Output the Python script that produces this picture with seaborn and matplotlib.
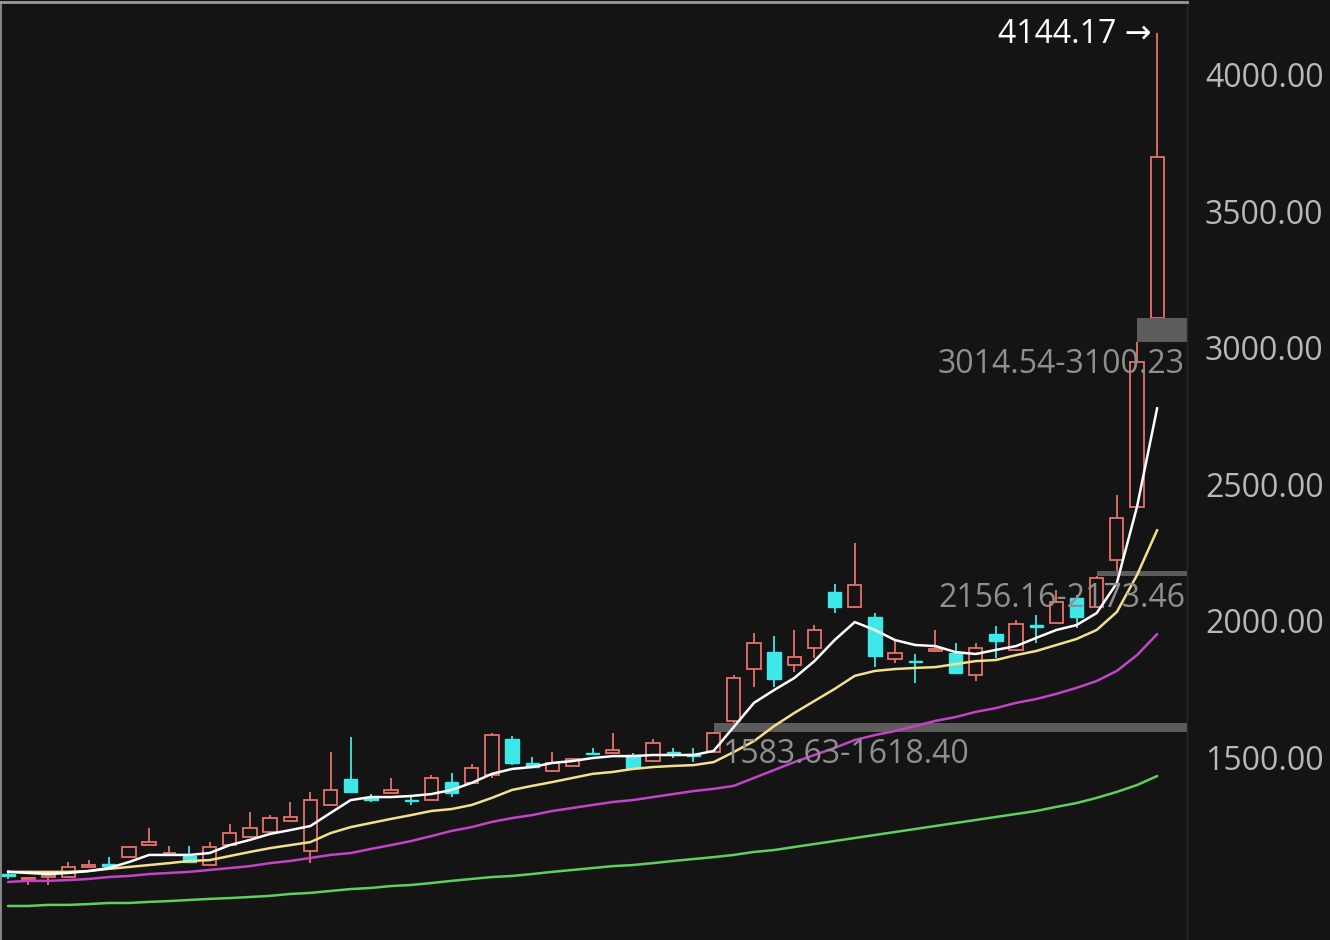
import numpy as np
import pandas as pd
import matplotlib
matplotlib.use("Agg")
import matplotlib.pyplot as plt
from matplotlib.transforms import ScaledTranslation
import seaborn as sns

# ---------------- data ----------------
opens = [1064, 1045, 1053, 1053, 1090, 1101, 1126, 1170, 1140, 1130,
         1097, 1170, 1200, 1218, 1258, 1148, 1317, 1412, 1346, 1361,
         1337, 1335, 1401, 1397, 1427, 1559, 1471, 1441, 1460, 1508,
         1507, 1500, 1478, 1510, 1502, 1511, 1624, 1815, 1877, 1830,
         1892, 2097, 2042, 2006, 1852, 1844, 1881, 1874, 1793, 1943,
         1884, 1975, 1984, 2075, 2042, 2214, 2408, 3100.23]
highs = [1079, 1052, 1068, 1108, 1115, 1126, 1165, 1233, 1167, 1167,
         1181, 1247, 1291, 1280, 1328, 1364, 1511, 1566, 1357, 1416,
         1353, 1427, 1434, 1467, 1581, 1570, 1493, 1511, 1490, 1526,
         1581, 1507, 1559, 1526, 1526, 1583.63, 1793, 1947, 1936, 1958,
         1976, 2126, 2277, 2020, 1918, 1870, 1958, 1910, 1910, 1973,
         1995, 2013, 2104, 2086, 2156.16, 2452, 3014.54, 4144.17]
lows = [1046, 1024, 1024, 1050, 1088, 1092, 1124, 1168, 1130, 1105,
        1095, 1168, 1198, 1216, 1256, 1104, 1315, 1362, 1328, 1359,
        1317, 1333, 1346, 1395, 1416, 1463, 1452, 1439, 1458, 1500,
        1506, 1445, 1476, 1489, 1474, 1509, 1618.40, 1749, 1749, 1804,
        1855, 2020, 2040, 1822, 1837, 1764, 1879, 1798, 1771, 1855,
        1882, 1910, 1982, 1965, 2040, 2173.46, 2406, 3100.23]
closes = [1057, 1048, 1060, 1090, 1097, 1094, 1163, 1181, 1142, 1108,
          1163, 1214, 1233, 1269, 1273, 1335, 1372, 1365, 1335, 1372,
          1333, 1416, 1361, 1452, 1573, 1471, 1456, 1471, 1485, 1504,
          1518, 1452, 1544, 1506, 1498, 1581, 1782, 1910, 1778, 1859,
          1958, 2042, 2123, 1863, 1874, 1840, 1888, 1800, 1892, 1918,
          1980, 1970, 2061, 2006, 2148, 2368, 2940, 3691]

ma5 = [1072, 1068, 1064, 1068, 1075, 1086, 1108, 1134, 1134, 1134,
       1141, 1170, 1189, 1211, 1225, 1240, 1288, 1335, 1346, 1346,
       1350, 1357, 1372, 1398, 1431, 1449, 1456, 1471, 1478, 1489,
       1496, 1496, 1500, 1500, 1500, 1515, 1603, 1691, 1738, 1782,
       1844, 1921, 1987, 1958, 1921, 1903, 1899, 1877, 1870, 1885,
       1899, 1929, 1958, 1976, 2020, 2130, 2409, 2771]
ma10 = [1072, 1072, 1072, 1072, 1075, 1083, 1090, 1097, 1104, 1112,
        1115, 1130, 1145, 1159, 1170, 1181, 1214, 1236, 1251, 1266,
        1280, 1295, 1302, 1317, 1343, 1372, 1387, 1401, 1416, 1431,
        1438, 1449, 1456, 1460, 1463, 1474, 1511, 1551, 1606, 1654,
        1698, 1742, 1790, 1808, 1815, 1819, 1822, 1833, 1844, 1848,
        1866, 1881, 1903, 1925, 1958, 2024, 2159, 2324]
ma20 = [1035, 1039, 1039, 1042, 1046, 1053, 1057, 1064, 1068, 1072,
        1079, 1086, 1093, 1104, 1112, 1123, 1134, 1141, 1156, 1170,
        1185, 1203, 1222, 1236, 1255, 1269, 1280, 1295, 1306, 1317,
        1328, 1335, 1346, 1357, 1368, 1376, 1387, 1416, 1445, 1474,
        1500, 1526, 1555, 1573, 1588, 1606, 1625, 1639, 1658, 1672,
        1691, 1705, 1724, 1746, 1771, 1808, 1866, 1943]
ma60 = [947, 947, 951, 951, 954, 958, 958, 962, 965, 969,
        973, 976, 980, 984, 991, 995, 1002, 1009, 1013, 1020,
        1024, 1031, 1039, 1046, 1053, 1057, 1064, 1072, 1079, 1086,
        1093, 1097, 1104, 1112, 1119, 1126, 1134, 1145, 1152, 1163,
        1174, 1185, 1196, 1207, 1218, 1229, 1240, 1251, 1262, 1273,
        1284, 1295, 1310, 1324, 1343, 1365, 1390, 1423]

yticks = [1500, 2000, 2500, 3000, 3500, 4000]
gap_start = [35, 54, 56]
gap_low = [1583.63, 2156.16, 3014.54]
gap_high = [1618.40, 2173.46, 3100.23]
peak_value = 4144.17

# ---------------- style ----------------
BG = "#141414"
RED = "#e8716b"
CYAN = "#3fe8e8"
GAPC = "#5c5c5c"
FS = 23
sns.set_theme(style="dark", rc={"axes.facecolor": BG, "figure.facecolor": BG,
                                "savefig.facecolor": BG})
plt.rcParams["font.family"] = ["Open Sans", "DejaVu Sans"]

fig = plt.figure(figsize=(13.3, 9.4), dpi=100)
ax = fig.add_axes([0, 0, 1187 / 1330, 938 / 940])
ax.set_facecolor(BG)

n = len(opens)
df = pd.DataFrame({"i": np.arange(n), "o": opens, "h": highs, "l": lows, "c": closes,
                   "ma5": ma5, "ma10": ma10, "ma20": ma20, "ma60": ma60})
df["top"] = df[["o", "c"]].max(axis=1)
df["bot"] = df[["o", "c"]].min(axis=1)
up = df[df.c >= df.o]
dn = df[df.c < df.o]
W = 0.66

# candles: rising -> hollow red, falling -> filled cyan
ax.vlines(up.i, up.l, up.bot, color=RED, lw=1.3, zorder=2)
ax.vlines(up.i, up.top, up.h, color=RED, lw=1.3, zorder=2)
ax.bar(up.i, up.top - up.bot, bottom=up.bot, width=W, facecolor=BG,
       edgecolor=RED, linewidth=1.3, zorder=2.1)
ax.vlines(dn.i, dn.l, dn.h, color=CYAN, lw=1.3, zorder=2)
ax.bar(dn.i, dn.top - dn.bot, bottom=dn.bot, width=W, facecolor=CYAN,
       edgecolor=CYAN, linewidth=1.0, zorder=2.1)

# gap bands
XMAX = 58.48
for s, lo, hi in zip(gap_start, gap_low, gap_high):
    ax.fill_between([s, XMAX], lo, hi, color=GAPC, lw=0, zorder=2.5)

# moving averages
for col, colr in [("ma60", "#5fcf5f"), ("ma20", "#c244c8"),
                  ("ma10", "#f2e08e"), ("ma5", "#ffffff")]:
    sns.lineplot(data=df, x="i", y=col, color=colr, lw=1.8, ax=ax, zorder=3)

# gap labels
LBL = "#8f8f8f"
ax.text(35.42, 1470.7, f"{gap_low[0]:.2f}-{gap_high[0]:.2f}", ha="left",
        va="baseline", fontsize=FS, color=LBL, zorder=4)
ax.text(58.38, 2042, f"{gap_low[1]:.2f}-{gap_high[1]:.2f}", ha="right",
        va="baseline", fontsize=FS, color=LBL, zorder=4)
ax.text(58.38, 2899, f"{gap_low[2]:.2f}-{gap_high[2]:.2f}", ha="right",
        va="baseline", fontsize=FS, color=LBL, zorder=4)
ax.text(56.75, 4108, f"{peak_value:.2f} \u2192", ha="right", va="baseline",
        fontsize=FS, color="white", zorder=4)

# axes
ax.set_xlim(-0.397, XMAX)
ax.set_ylim(822.4, 4258.3)
ax.set_xlabel("")
ax.set_ylabel("")
ax.set_xticks([])
ax.yaxis.tick_right()
ax.set_yticks(yticks)
ax.set_yticklabels([f"{v:.2f}" for v in yticks])
ax.tick_params(axis="y", length=0, pad=13, labelsize=FS, labelcolor="#b8b8b8")
ax.grid(False)
for lab in ax.get_yticklabels():
    lab.set_va("baseline")
    lab.set_transform(lab.get_transform() +
                      ScaledTranslation(0, -0.145, fig.dpi_scale_trans))

ax.spines["top"].set_color("#9a9a9a")
ax.spines["top"].set_linewidth(2)
ax.spines["left"].set_color("#8a8a8a")
ax.spines["left"].set_linewidth(2)
ax.spines["right"].set_color("#2a2a2a")
ax.spines["right"].set_linewidth(1)
ax.spines["bottom"].set_visible(False)

fig.savefig("out.png", dpi=100, facecolor=BG)
